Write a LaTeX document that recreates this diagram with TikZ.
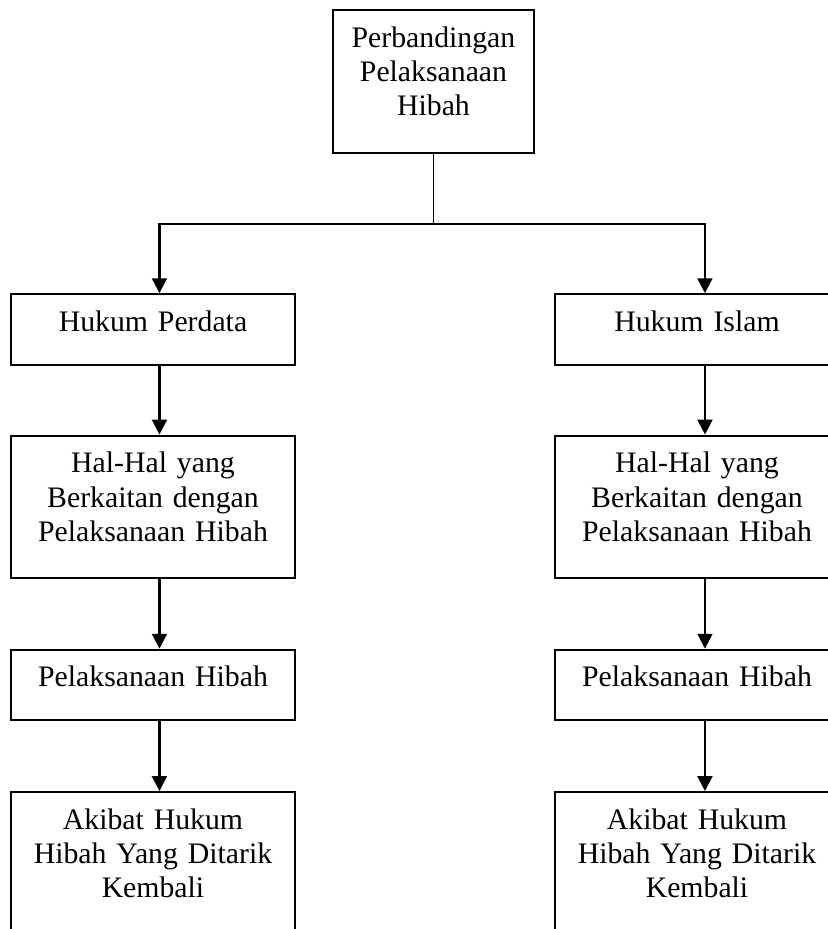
\documentclass[tikz,border=0pt]{standalone}
\usepackage{fontspec}
\setmainfont{Liberation Serif}
\usepackage{tikz}
\usetikzlibrary{arrows.meta}
\tikzset{>={Triangle[length=6pt,width=6pt]}}

\begin{document}
\begin{tikzpicture}[black, x=0.4032pt, y=-0.4032pt, line width=0.9pt,
    box/.style={draw, inner sep=0pt, align=center, text height=15pt,
        font=\fontsize{12}{13.8}\selectfont},
    side/.style={text width=114.5pt},
    short/.style={text depth=13.4pt},
    tall/.style={text depth=42.5pt}]
    \useasboundingbox (0,0) rectangle (827,929);

    %top box
    \node[box, text width=81pt, tall] (judul) at (433.5,81.5)
        {Perbandingan\\Pelaksanaan\\Hibah};
    \coordinate (cabang) at (433.5,224);

    %left column
    \node[box, side, short] (perdata) at (153,329.5) {Hukum Perdata};
    \node[box, side, tall] (halperdata) at (153,507)
        {Hal-Hal yang\\Berkaitan dengan\\Pelaksanaan Hibah};
    \node[box, side, short] (laksperdata) at (153,685) {Pelaksanaan Hibah};
    \node[box, side, tall] (akibatperdata) at (153,863.5)
        {Akibat Hukum\\Hibah Yang Ditarik\\Kembali};

    %right column
    \node[box, side, short] (islam) at (697,329.5) {Hukum Islam};
    \node[box, side, tall] (halislam) at (697,507)
        {Hal-Hal yang\\Berkaitan dengan\\Pelaksanaan Hibah};
    \node[box, side, short] (laksislam) at (697,685) {Pelaksanaan Hibah};
    \node[box, side, tall] (akibatislam) at (697,863.5)
        {Akibat Hukum\\Hibah Yang Ditarik\\Kembali};

    %split
    \draw[line width=0.6pt] (judul.south) -- (cabang);
    \draw[->] (cabang) -| ([xshift=2.6pt]perdata.north);
    \draw[->] (cabang) -| ([xshift=3.2pt]islam.north);

    %left arrows
    \draw[->] ([xshift=2.6pt]perdata.south) -- ([xshift=2.6pt]halperdata.north);
    \draw[->] ([xshift=2.6pt]halperdata.south) -- ([xshift=2.6pt]laksperdata.north);
    \draw[->] ([xshift=2.6pt]laksperdata.south) -- ([xshift=2.6pt]akibatperdata.north);

    %right arrows
    \draw[->] ([xshift=3.2pt]islam.south) -- ([xshift=3.2pt]halislam.north);
    \draw[->] ([xshift=3.2pt]halislam.south) -- ([xshift=3.2pt]laksislam.north);
    \draw[->] ([xshift=3.2pt]laksislam.south) -- ([xshift=3.2pt]akibatislam.north);
\end{tikzpicture}
\end{document}
